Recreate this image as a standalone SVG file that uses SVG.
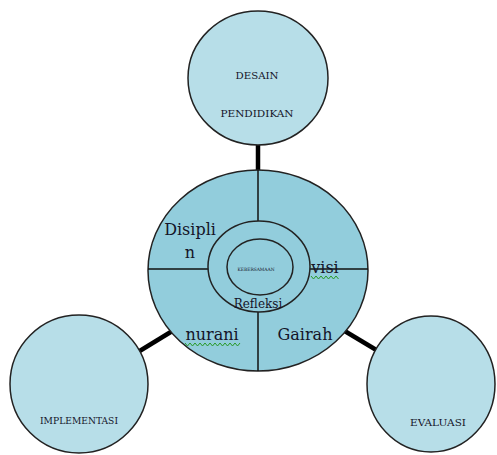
<svg xmlns="http://www.w3.org/2000/svg" width="497" height="455" viewBox="0 0 497 455">
<style>
.outer{fill:#B7DEE8;stroke:#222;stroke-width:1.5}
.main{fill:#92CDDC;stroke:#222;stroke-width:1.5}
.div{stroke:#111;stroke-width:1.5;fill:none}
.conn{stroke:#000;stroke-width:4.5;fill:none}
.lbl{font-family:"DejaVu Serif","Liberation Serif",serif;fill:#141428}
.small{font-family:"DejaVu Serif","Liberation Serif",serif;font-size:9px;fill:#141428}
.squig{stroke:#2a9a2a;stroke-width:1;fill:none}
</style>
<rect width="497" height="455" fill="#ffffff"/>
<g id="connectors">
<line class="conn" x1="258" y1="144" x2="258" y2="171"/>
<line class="conn" x1="174" y1="330" x2="138" y2="352"/>
<line class="conn" x1="343" y1="330" x2="378" y2="351"/>
</g>
<g id="desain">
<ellipse class="outer" cx="258" cy="78" rx="70" ry="67"/>
<text class="small" x="257" y="79" text-anchor="middle" textLength="43" lengthAdjust="spacingAndGlyphs">DESAIN</text>
<text class="small" x="257" y="117" text-anchor="middle" textLength="73" lengthAdjust="spacingAndGlyphs">PENDIDIKAN</text>
</g>
<g id="implementasi">
<ellipse class="outer" cx="79" cy="384" rx="69" ry="69"/>
<text class="small" x="79" y="424" text-anchor="middle" textLength="78" lengthAdjust="spacingAndGlyphs">IMPLEMENTASI</text>
</g>
<g id="evaluasi">
<ellipse class="outer" cx="431" cy="384" rx="64" ry="68"/>
<text class="small" x="438" y="426" text-anchor="middle" textLength="56" lengthAdjust="spacingAndGlyphs">EVALUASI</text>
</g>
<g id="center">
<ellipse class="main" cx="258" cy="270.5" rx="110" ry="100.5"/>
<line class="div" x1="258" y1="170" x2="258" y2="221"/>
<line class="div" x1="258" y1="312" x2="258" y2="371"/>
<line class="div" x1="148" y1="269" x2="208" y2="269"/>
<line class="div" x1="310" y1="269" x2="368" y2="269"/>
<ellipse class="main" cx="259" cy="266.5" rx="51" ry="45.5"/>
<ellipse class="main" cx="260" cy="267" rx="33" ry="28"/>
<text class="lbl" x="190" y="235" font-size="16" text-anchor="middle">Disipli</text>
<text class="lbl" x="190" y="258" font-size="16" text-anchor="middle">n</text>
<text class="lbl" x="325" y="273" font-size="16" text-anchor="middle">visi</text>
<path class="squig" d="M311 276 l2.5 3 l2.5 -3 l2.5 3 l2.5 -3 l2.5 3 l2.5 -3 l2.5 3 l2.5 -3 l2.5 3 l2.5 -3 l2.5 3"/>
<text class="lbl" x="258" y="308" font-size="12" text-anchor="middle">Refleksi</text>
<text class="lbl" x="212" y="340" font-size="16" text-anchor="middle">nurani</text>
<path class="squig" d="M185 343 l2.5 3 l2.5 -3 l2.5 3 l2.5 -3 l2.5 3 l2.5 -3 l2.5 3 l2.5 -3 l2.5 3 l2.5 -3 l2.5 3 l2.5 -3 l2.5 3 l2.5 -3 l2.5 3 l2.5 -3 l2.5 3 l2.5 -3 l2.5 3 l2.5 -3 l2.5 3 l2.5 -3"/>
<text class="lbl" x="305" y="340" font-size="16" text-anchor="middle">Gairah</text>
<text class="lbl" x="256" y="270.5" font-size="4.5" text-anchor="middle" textLength="37" lengthAdjust="spacingAndGlyphs">KEBERSAMAAN</text>
</g>
</svg>
